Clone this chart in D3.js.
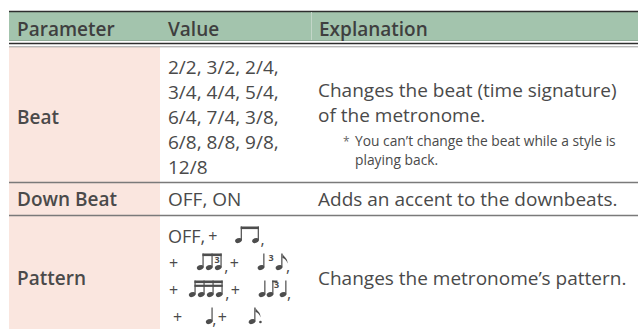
<!DOCTYPE html>
<html><head><meta charset="utf-8">
<script src="https://cdn.jsdelivr.net/npm/d3@7"></script>
<style>html,body{margin:0;padding:0;background:#fff;} svg{display:block;}</style>
</head><body>
<svg id="c" width="638" height="329"></svg>
<script>
// ---------- data ----------
const headers = ["Parameter", "Value", "Explanation"];
const parameters = ["Beat", "Down Beat", "Pattern"];
const beatValues = ["2/2, 3/2, 2/4,", "3/4, 4/4, 5/4,", "6/4, 7/4, 3/8,", "6/8, 8/8, 9/8,", "12/8"];
const downBeatValues = ["OFF, ON"];
const patternLines = [
  ["OFF,", "+", "♫2", ","],
  ["+", "♫3", ",", "+", "♩3♪", ","],
  ["+", "♬4", ",", "+", "♩♩3♩", ","],
  ["+", "♩", ",", "+", "♪."]
];
const beatExplanation = ["Changes the beat (time signature)", "of the metronome."];
const beatNote = ["You can’t change the beat while a style is", "playing back."];
const downBeatExplanation = ["Adds an accent to the downbeats."];
const patternExplanation = ["Changes the metronome’s pattern."];

// ---------- layout ----------
const W = 638, H = 329;
const svg = d3.select("#c");
const FONT = "'Open Sans', 'Noto Sans', sans-serif";
const TXT = "#4a4a4a";
const colX = d3.scaleOrdinal().domain(headers).range([9, 160, 311]);
const rowTop = d3.scaleOrdinal().domain(parameters).range([47, 182, 215]);
const tableRight = W;
const textPad = 8;

// pink first column
svg.append("rect").attr("x", colX("Parameter")).attr("y", 47)
  .attr("width", colX("Value") - colX("Parameter")).attr("height", H - 47)
  .attr("fill", "#fae6df");

// header band
svg.append("rect").attr("x", 9).attr("y", 11).attr("width", tableRight - 9).attr("height", 30)
  .attr("fill", "#a3c4ad");
svg.append("line").attr("x1", 9).attr("x2", tableRight).attr("y1", 11.5).attr("y2", 11.5)
  .attr("stroke", "#2e2e2e").attr("stroke-width", 1.3);
svg.append("line").attr("x1", 9).attr("x2", tableRight).attr("y1", 40.5).attr("y2", 40.5)
  .attr("stroke", "#8faa97").attr("stroke-width", 1);
svg.append("line").attr("x1", 9).attr("x2", tableRight).attr("y1", 43.5).attr("y2", 43.5)
  .attr("stroke", "#2e2e2e").attr("stroke-width", 1.6);
svg.append("line").attr("x1", 9).attr("x2", tableRight).attr("y1", 46.8).attr("y2", 46.8)
  .attr("stroke", "#9a9a9a").attr("stroke-width", 1);
svg.append("line").attr("x1", colX("Explanation") + 0.5).attr("x2", colX("Explanation") + 0.5)
  .attr("y1", 12).attr("y2", 40).attr("stroke", "#c3d6c8").attr("stroke-width", 1);

// header texts
svg.selectAll("text.hdr").data(headers).join("text").attr("class", "hdr")
  .attr("x", d => colX(d) + textPad).attr("y", 36)
  .attr("font-family", FONT).attr("font-weight", 600).attr("font-size", 19)
  .attr("fill", "#3f3f3f").text(d => d);

// row separators
parameters.slice(1).forEach(p => {
  svg.append("line").attr("x1", 9).attr("x2", tableRight)
    .attr("y1", rowTop(p) + 0.5).attr("y2", rowTop(p) + 0.5)
    .attr("stroke", "#7a7a7a").attr("stroke-width", 1.3);
});

// parameter labels
const labelBase = {"Beat": 124, "Down Beat": 206, "Pattern": 285};
svg.selectAll("text.par").data(parameters).join("text").attr("class", "par")
  .attr("x", colX("Parameter") + textPad).attr("y", d => labelBase[d])
  .attr("font-family", FONT).attr("font-weight", 600).attr("font-size", 19)
  .attr("fill", TXT).text(d => d);

function lines(arr, x, y0, lh, size, cls) {
  svg.selectAll("text." + cls).data(arr).join("text").attr("class", cls)
    .attr("x", x).attr("y", (d, i) => y0 + i * lh)
    .attr("font-family", FONT).attr("font-size", size).attr("fill", TXT).text(d => d);
}
const vx = colX("Value") + textPad, ex = colX("Explanation") + 7;
lines(beatValues, vx, 74, 25, 19, "bv");
lines(downBeatValues, vx, 206, 25, 19, "dv");
lines(beatExplanation, ex, 97, 25, 19, "be");
lines(downBeatExplanation, ex, 206, 25, 19, "de");
lines(patternExplanation, ex, 285, 25, 19, "pe");
// note with asterisk
svg.append("text").attr("x", ex + 25).attr("y", 145.5).attr("font-family", FONT)
  .attr("font-size", 12).attr("fill", "#666").text("*");
lines(beatNote, ex + 37, 145.5, 19, 13.8, "bn");

// ---------- music symbols ----------
const NC = "#4d4d4d";
function head(g, x) {
  g.append("ellipse").attr("cx", x).attr("cy", -2.4).attr("rx", 3.4).attr("ry", 2.4)
    .attr("transform", `rotate(-22 ${x} -2.4)`).attr("fill", NC);
}
function stem(g, x, top = -16.5) {
  g.append("rect").attr("x", x + 2.3).attr("y", top).attr("width", 1.2).attr("height", -top - 2.4).attr("fill", NC);
}
function beam(g, x1, x2, y = -16.5, h = 2.6) {
  g.append("rect").attr("x", x1 + 2.3).attr("y", y).attr("width", x2 - x1 + 1.2).attr("height", h).attr("fill", NC);
}
function flag(g, x) {
  const sx = x + 3.5;
  g.append("path").attr("d", `M${sx},-16.5 C${sx + 1},-13 ${sx + 5.5},-12 ${sx + 5},-6.5 C${sx + 4.3},-10 ${sx + 2},-11.5 ${sx},-12 Z`).attr("fill", NC);
}
function three(g, x, y = -9) {
  g.append("text").attr("x", x).attr("y", y).attr("font-family", FONT).attr("font-size", 9)
    .attr("font-weight", 700).attr("text-anchor", "middle").attr("fill", NC).text("3");
}
const symbols = {
  "♫2": {lead: 18, w: 25, draw: g => { head(g, 3); head(g, 20); stem(g, 3); stem(g, 20); beam(g, 3, 20); }},
  "♫3": {lead: 19, w: 27, draw: g => { [3, 12, 21].forEach(x => { head(g, x); stem(g, x); }); beam(g, 3, 21); three(g, 19.8, -7); }},
  "♩3♪": {lead: 19, w: 28, draw: g => { head(g, 3); stem(g, 3); three(g, 13, -9.5); head(g, 21); stem(g, 21); flag(g, 21); }},
  "♬4": {lead: 11, w: 36, draw: g => { [3, 12, 21, 30].forEach(x => { head(g, x); stem(g, x); }); beam(g, 3, 30); beam(g, 3, 30, -12.3, 2.2); }},
  "♩♩3♩": {lead: 19, w: 28, draw: g => { head(g, 3); stem(g, 3); head(g, 11); stem(g, 11); beam(g, 11, 15, -16.5, 1.8); three(g, 17.5, -9); head(g, 24); stem(g, 24); }},
  "♩": {lead: 24, w: 6, draw: g => { head(g, 3); stem(g, 3); }},
  "♪.": {lead: 22, w: 13, draw: g => { head(g, 3); stem(g, 3); flag(g, 3); g.append("circle").attr("cx", 11.5).attr("cy", -2).attr("r", 1.3).attr("fill", NC); }}
};

const patBase0 = 243, patLH = 27;
patternLines.forEach((tokens, li) => {
  const y = patBase0 + li * patLH;
  let x = vx + (li === 3 ? 4 : 0);
  const lg = svg.append("g").attr("class", "patline");
  tokens.forEach(tok => {
    if (symbols[tok]) {
      const s = symbols[tok];
      const g = lg.append("g").attr("transform", `translate(${x + s.lead},${y})`);
      s.draw(g);
      x += s.lead + s.w;
    } else if (tok === "+") {
      const t = lg.append("text").attr("x", x + 1).attr("y", y - 1).attr("font-family", FONT)
        .attr("font-size", 16).attr("fill", TXT).text("+");
      x += t.node().getComputedTextLength() + 1;
    } else if (tok === ",") {
      const t = lg.append("text").attr("x", x).attr("y", y + (li === 3 ? 0.5 : 2)).attr("font-family", FONT)
        .attr("font-size", 16).attr("fill", TXT).text(",");
      x += t.node().getComputedTextLength() + 0.5;
    } else {
      const t = lg.append("text").attr("x", x).attr("y", y).attr("font-family", FONT)
        .attr("font-size", 18).attr("fill", TXT).text(tok);
      x += t.node().getComputedTextLength() + 2;
    }
  });
});
</script>
</body></html>
